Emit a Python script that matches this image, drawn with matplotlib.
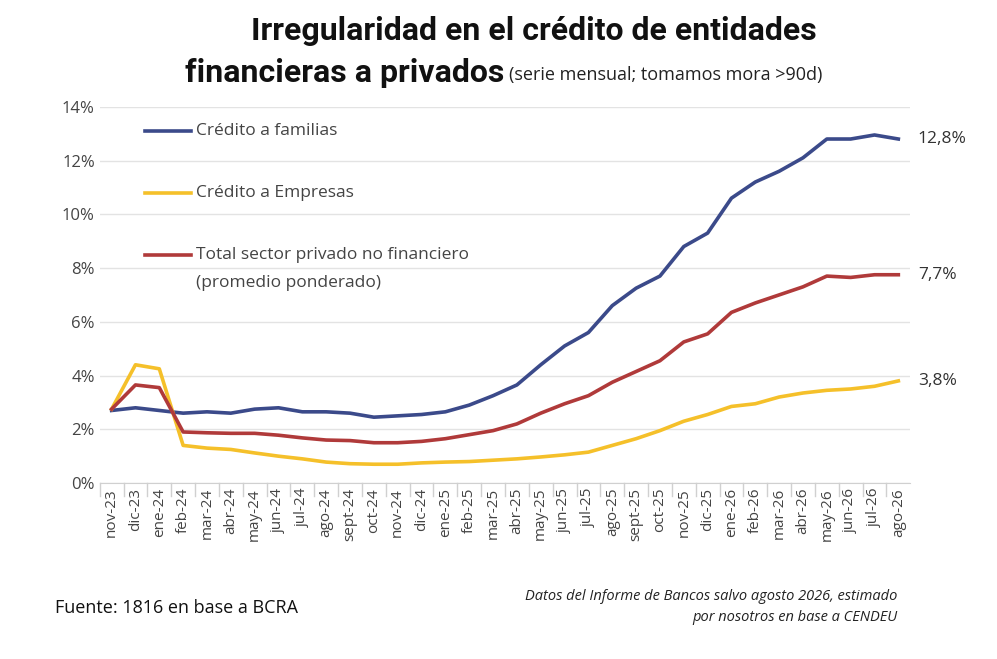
import matplotlib
matplotlib.use("Agg")
import matplotlib.pyplot as plt
from matplotlib.ticker import FuncFormatter

months = ["nov-23","dic-23","ene-24","feb-24","mar-24","abr-24","may-24","jun-24","jul-24","ago-24","sept-24","oct-24","nov-24","dic-24",
          "ene-25","feb-25","mar-25","abr-25","may-25","jun-25","jul-25","ago-25","sept-25","oct-25","nov-25","dic-25",
          "ene-26","feb-26","mar-26","abr-26","may-26","jun-26","jul-26","ago-26"]
familias = [2.7,2.8,2.7,2.6,2.65,2.6,2.75,2.8,2.65,2.65,2.6,2.45,2.5,2.55,2.65,2.9,3.25,3.65,4.4,5.1,5.6,6.6,7.25,7.7,8.8,9.3,10.6,11.2,11.6,12.1,12.8,12.8,12.95,12.8]
empresas = [2.75,4.4,4.25,1.4,1.3,1.25,1.12,1.0,0.9,0.78,0.72,0.7,0.7,0.75,0.78,0.8,0.85,0.9,0.97,1.05,1.15,1.4,1.65,1.95,2.3,2.55,2.85,2.95,3.2,3.35,3.45,3.5,3.6,3.8]
total = [2.75,3.65,3.55,1.9,1.87,1.85,1.85,1.78,1.68,1.6,1.58,1.5,1.5,1.55,1.65,1.8,1.95,2.2,2.6,2.95,3.25,3.75,4.15,4.55,5.25,5.55,6.35,6.7,7.0,7.3,7.7,7.65,7.75,7.75]
end_labels = ["12,8%","3,8%","7,7%"]

plt.rcParams['font.family'] = ['Open Sans','DejaVu Sans']
fig = plt.figure(figsize=(9.97,6.59), dpi=100)
ax = fig.add_axes([0.10,0.267,0.813,0.571])
x = list(range(len(months)))
cols = ["#3b4a8a","#f5c02a","#b03a3a"]
for s,c in zip([familias,empresas,total],cols):
    ax.plot(x,s,color=c,lw=2.6)
ax.set_ylim(0,14)
ax.set_xlim(-0.5,len(months)-0.5)
ax.set_yticks(range(0,15,2))
ax.yaxis.set_major_formatter(FuncFormatter(lambda v,p: f"{int(v)}%"))
ax.set_xticks(x)
ax.set_xticklabels(months, rotation=90, fontsize=11, color="#444")
ax.tick_params(axis='y', labelsize=12, colors="#444", length=0)
ax.tick_params(axis='x', length=0)
ax.grid(axis='y', color="#e3e3e3", lw=1)
for s in ["top","right","left"]:
    ax.spines[s].set_visible(False)
ax.spines["bottom"].set_color("#d0d0d0")
for i in x:
    ax.plot([i-0.5,i-0.5],[0,-0.5],color="#d0d0d0",lw=1,clip_on=False)
ax.set_axisbelow(True)
for s,c,l in zip([familias,empresas,total],cols,end_labels):
    ax.annotate(l,(x[-1],s[-1]),xytext=(14,0),textcoords="offset points",va="center",fontsize=12.5,color="#333")
# legend
leg = [(13.1,["Crédito a familias"],cols[0]),(10.8,["Crédito a Empresas"],cols[1]),
       (8.5,["Total sector privado no financiero","(promedio ponderado)"],cols[2])]
for y,lines,c in leg:
    ax.plot([1.4,3.35],[y,y],color=c,lw=2.6)
    for k,t in enumerate(lines):
        ax.text(3.55,y-1.05*k,t,va="center",fontsize=12.5,color="#444")
fig.text(0.535,0.94,"Irregularidad en el crédito de entidades",ha="center",fontsize=23,fontweight="bold",family="Roboto",color="#111")
fig.text(0.186,0.875,"financieras a privados",ha="left",fontsize=23,fontweight="bold",family="Roboto",color="#111")
fig.text(0.511,0.878,"(serie mensual; tomamos mora >90d)",ha="left",fontsize=13,color="#222")
fig.text(0.055,0.07,"Fuente: 1816 en base a BCRA",fontsize=13,color="#111")
fig.text(0.9,0.058,"Datos del Informe de Bancos salvo agosto 2026, estimado\npor nosotros en base a CENDEU",ha="right",fontsize=10.5,style="italic",color="#222",linespacing=1.5)
fig.savefig("out.png",dpi=100,facecolor="white")
